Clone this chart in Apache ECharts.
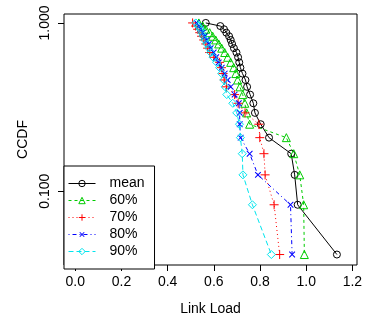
<!DOCTYPE html>
<html>
<head>
<meta charset="utf-8">
<script src="https://cdn.jsdelivr.net/npm/echarts@6/dist/echarts.min.js"></script>
<style>
html,body{margin:0;padding:0;background:#fff;}
#chart{width:366px;height:321px;}
</style>
</head>
<body>
<div id="chart"></div>
<script>
// CCDF levels (y values), top to bottom
const ccdf = [1.000, 0.958, 0.917, 0.875, 0.833, 0.792, 0.750, 0.708, 0.667, 0.625, 0.583, 0.542,
              0.500, 0.458, 0.417, 0.375, 0.333, 0.292, 0.250, 0.208, 0.167, 0.125, 0.083, 0.042];
// Link load values for each series, matching the ccdf levels
const loadMean = [0.565, 0.628, 0.644, 0.654, 0.666, 0.673, 0.679, 0.687, 0.698, 0.705, 0.710, 0.715,
                  0.724, 0.737, 0.744, 0.757, 0.771, 0.778, 0.803, 0.839, 0.935, 0.950, 0.963, 1.133];
const load60 = [0.535, 0.552, 0.565, 0.582, 0.595, 0.608, 0.621, 0.634, 0.647, 0.660, 0.673, 0.686,
                0.695, 0.703, 0.713, 0.725, 0.734, 0.742, 0.755, 0.914, 0.946, 0.972, 0.989, 0.992];
const load70 = [0.508, 0.521, 0.530, 0.539, 0.547, 0.556, 0.565, 0.573, 0.582, 0.600, 0.625, 0.633,
                0.640, 0.645, 0.655, 0.690, 0.705, 0.735, 0.795, 0.799, 0.817, 0.822, 0.861, 0.885];
const load80 = [0.526, 0.535, 0.543, 0.552, 0.560, 0.569, 0.578, 0.586, 0.599, 0.610, 0.621, 0.634,
                0.647, 0.660, 0.673, 0.690, 0.708, 0.712, 0.712, 0.716, 0.755, 0.791, 0.932, 0.939];
const load90 = [0.522, 0.532, 0.541, 0.547, 0.554, 0.560, 0.569, 0.578, 0.586, 0.597, 0.612, 0.625,
                0.634, 0.643, 0.649, 0.656, 0.682, 0.699, 0.711, 0.715, 0.723, 0.726, 0.767, 0.849];
const seriesNames = ['mean', '60%', '70%', '80%', '90%'];
const xTicks = [0, 0.2, 0.4, 0.6, 0.8, 1.0, 1.2];

const FONT = "'Liberation Sans', Arial, Helvetica, sans-serif";
const plusPath = 'path://M0,-1L0,1M-1,0L1,0';

function mk(name, xs, color, dash, symbol, size, rot) {
  return {
    name: name,
    type: 'line',
    data: xs.map((x, i) => [x, ccdf[i]]),
    symbol: symbol,
    symbolSize: size,
    symbolRotate: rot || 0,
    lineStyle: { color: color, width: 1, type: dash },
    itemStyle: { color: 'rgba(0,0,0,0)', borderColor: color, borderWidth: 1 },
    emphasis: { disabled: true },
    animation: false
  };
}

const chart = echarts.init(document.getElementById('chart'), null, { renderer: 'canvas' });
chart.setOption({
  backgroundColor: '#fff',
  animation: false,
  grid: { left: 64, right: 9, top: 14, bottom: 52, show: true, borderColor: '#000', borderWidth: 1, backgroundColor: 'transparent' },
  xAxis: {
    type: 'value', min: -0.049, max: 1.22,
    name: 'Link Load', nameLocation: 'middle', nameGap: 37,
    nameTextStyle: { fontFamily: FONT, fontSize: 14, color: '#000' },
    axisLine: { show: false, onZero: false },
    axisTick: { show: true, inside: false, length: 6, lineStyle: { color: '#000' }, customValues: xTicks },
    axisLabel: { fontFamily: FONT, fontSize: 14, color: '#000', margin: 10, customValues: xTicks,
                 formatter: v => v.toFixed(1) },
    splitLine: { show: false }
  },
  yAxis: {
    type: 'log', logBase: 10, min: 0.0364, max: 1.13,
    name: 'CCDF', nameLocation: 'middle', nameGap: 30,
    nameTextStyle: { fontFamily: FONT, fontSize: 14, color: '#000' },
    axisLine: { show: false, onZero: false },
    axisTick: { show: true, inside: false, length: 6, lineStyle: { color: '#000' } },
    axisLabel: { fontFamily: FONT, fontSize: 14, color: '#000', margin: 12, rotate: 90,
                 showMinLabel: false, showMaxLabel: false,
                 formatter: v => Number(v).toFixed(3) },
    splitLine: { show: false }
  },
  legend: {
    orient: 'vertical', left: 64, top: 166,
    data: seriesNames,
    backgroundColor: '#fff', borderColor: '#000', borderWidth: 1, borderRadius: 0,
    padding: [9, 10, 9, 4],
    itemWidth: 27, itemHeight: 8, itemGap: 0,
    itemStyle: { borderWidth: 1 },
    lineStyle: { width: 1 },
    textStyle: { fontFamily: FONT, fontSize: 14, color: '#000', lineHeight: 17, padding: [0, 0, 0, 9] },
    selectedMode: false
  },
  series: [
    mk('mean', loadMean, '#000000', 'solid', 'circle', 7),
    mk('60%', load60, '#00CC00', [3, 3], 'triangle', 8),
    mk('70%', load70, '#FF0000', [1, 3], plusPath, 9),
    mk('80%', load80, '#0000FF', [1, 3, 4, 3], plusPath, 8, 45),
    mk('90%', load90, '#00E5EE', [5, 3], 'diamond', 8)
  ]
});
</script>
</body>
</html>
